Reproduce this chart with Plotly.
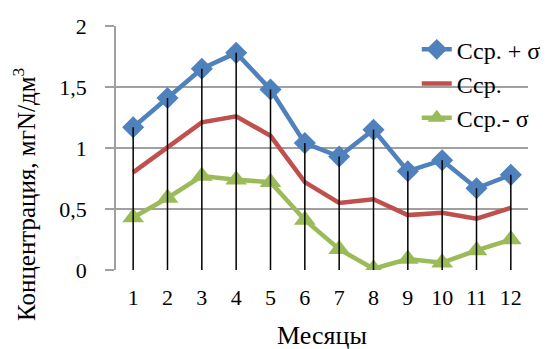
import plotly.graph_objects as go

months = list(range(1, 13))
tick_labels = [str(m) for m in months]
c_plus = [1.17, 1.41, 1.65, 1.78, 1.48, 1.04, 0.93, 1.15, 0.81, 0.90, 0.67, 0.78]
c_mean = [0.80, 1.00, 1.21, 1.26, 1.10, 0.72, 0.55, 0.58, 0.45, 0.47, 0.42, 0.51]
c_minus = [0.43, 0.59, 0.77, 0.74, 0.72, 0.41, 0.17, 0.01, 0.09, 0.06, 0.16, 0.25]
y_ticks = [0, 0.5, 1, 1.5, 2]
y_tick_labels = ["0", "0,5", "1", "1,5", "2"]

FONT = "Times New Roman, Liberation Serif, DejaVu Serif, serif"

fig = go.Figure()

fig.add_trace(go.Scatter(
    x=months, y=c_plus, name="Сср. + σ", mode="lines+markers",
    line=dict(color="#4F81BD", width=4.5),
    marker=dict(symbol="diamond", size=17, color="#4F81BD"),
))
fig.add_trace(go.Scatter(
    x=months, y=c_mean, name="Сср.", mode="lines",
    line=dict(color="#C0504D", width=4.5),
))
fig.add_trace(go.Scatter(
    x=months, y=c_minus, name="Сср.- σ", mode="lines+markers",
    line=dict(color="#9BBB59", width=4.5),
    marker=dict(symbol="triangle-up", size=19, color="#9BBB59"),
))

# drop lines from the highest series down to zero
dx, dy = [], []
for m, v in zip(months, c_plus):
    dx += [m, m, None]
    dy += [v, 0, None]
fig.add_trace(go.Scatter(
    x=dx, y=dy, mode="lines", showlegend=False, hoverinfo="skip",
    line=dict(color="black", width=1.5),
))

fig.update_layout(
    width=558, height=349,
    margin=dict(l=116, r=19, t=26, b=79),
    paper_bgcolor="white", plot_bgcolor="white",
    font=dict(family=FONT, size=22, color="black"),
    showlegend=True,
    legend=dict(
        x=0.73, y=0.995, xanchor="left", yanchor="top",
        bgcolor="rgba(0,0,0,0)", font=dict(family=FONT, size=24, color="black"),
        tracegroupgap=0,
    ),
    xaxis=dict(
        range=[0.5, 12.5], tickmode="array", tickvals=months, ticktext=tick_labels,
        showgrid=False, zeroline=False, showline=False, ticks="",
        tickfont=dict(family=FONT, size=22), automargin=False,
        ticklabelstandoff=12,
    ),
    yaxis=dict(
        range=[0, 2], tickmode="array", tickvals=y_ticks, ticktext=y_tick_labels,
        showgrid=True, gridcolor="#A0A0A0", gridwidth=1.5, zeroline=False,
        showline=True, linecolor="#A0A0A0", linewidth=1.5,
        ticks="outside", ticklen=9, tickcolor="#A0A0A0", tickwidth=1.5,
        tickfont=dict(family=FONT, size=22), automargin=False,
        ticklabelstandoff=14,
    ),
    annotations=[
        dict(text="Месяцы", xref="paper", yref="paper", x=0.499, y=-0.27,
             xanchor="center", yanchor="middle", showarrow=False,
             font=dict(family=FONT, size=26)),
        dict(text="Концентрация, мгN/дм<sup>3</sup>", xref="paper", yref="paper",
             x=-0.222, y=0.31, xanchor="center", yanchor="middle", textangle=-90,
             showarrow=False, font=dict(family=FONT, size=25)),
    ],
)

fig.write_html("out.html", config={"displayModeBar": False},
               post_script="document.body.style.margin='0px';")
